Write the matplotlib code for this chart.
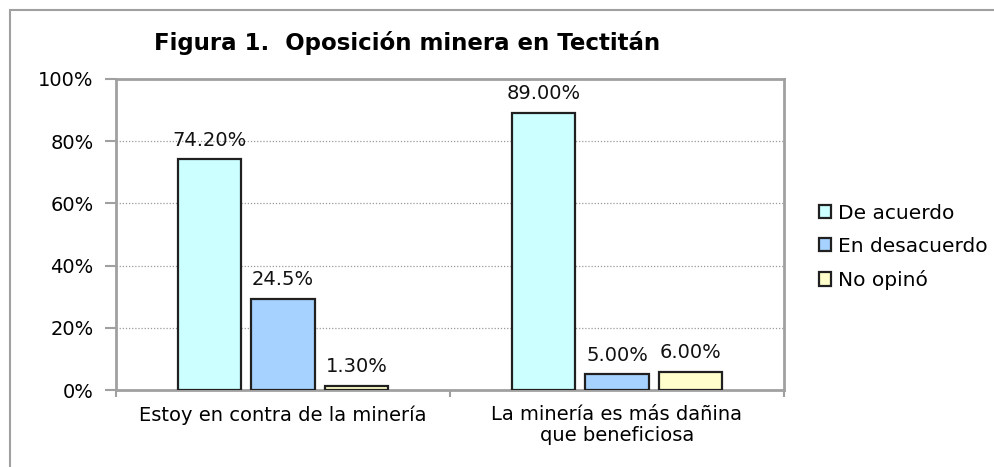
import numpy as np
import matplotlib
matplotlib.use("Agg")
from matplotlib import pyplot as plt
from matplotlib.patches import Rectangle

# survey answers, one list per answer, one value per statement
categories = ["Estoy en contra de la minería", "La minería es más dañina\nque beneficiosa"]
series_names = ["De acuerdo", "En desacuerdo", "No opinó"]
de_acuerdo = [74.2, 89.0]
en_desacuerdo = [29.3, 5.0]
no_opino = [1.3, 5.8]
# labels as printed on the chart
de_acuerdo_lbl = ["74.20%", "89.00%"]
en_desacuerdo_lbl = ["24.5%", "5.00%"]
no_opino_lbl = ["1.30%", "6.00%"]
yticks = [0, 20, 40, 60, 80, 100]

colors = ["#CCFFFF", "#A6D2FF", "#FFFFCC"]
frame_col = "#A0A0A0"

plt.rcParams["font.family"] = "DejaVu Sans"

fig = plt.figure(figsize=(9.95, 4.67), dpi=100)
ax = fig.add_axes([116 / 995, 1 - 390 / 467, 668 / 995, 311 / 467])

# outer chart border (runs off the right and bottom edges)
fig.patches.append(Rectangle((10 / 995, -0.1), 1.2, 1 - 10 / 467 + 0.1,
                             transform=fig.transFigure, fill=False,
                             edgecolor=frame_col, linewidth=1.5))

x = np.arange(len(categories))
width = 0.19
step = 0.22
all_vals = [de_acuerdo, en_desacuerdo, no_opino]
all_lbls = [de_acuerdo_lbl, en_desacuerdo_lbl, no_opino_lbl]
for i in range(3):
    bars = ax.bar(x + (i - 1) * step, all_vals[i], width, color=colors[i],
                  edgecolor="#202020", linewidth=1.6, label=series_names[i], zorder=3)
    ax.bar_label(bars, labels=all_lbls[i], padding=7, fontsize=14, color="#111111")

ax.set_xlim(-0.5, 1.5)
ax.set_ylim(0, 100)
ax.set_yticks(yticks)
ax.set_yticklabels([f"{v}%" for v in yticks])
ax.set_xticks([-0.5, 0.5, 1.5], minor=False)
ax.set_xticklabels([])
ax.set_xticks(x, minor=True)
ax.set_xticklabels(categories, minor=True, fontsize=14, linespacing=1.1)
ax.tick_params(axis="x", which="minor", length=0, pad=11)
ax.tick_params(axis="x", which="major", length=5, color=frame_col, width=1.5)
ax.tick_params(axis="y", length=8, color=frame_col, width=1.5, pad=8, labelsize=14)

ax.yaxis.grid(True, linestyle=(0, (1, 1.5)), color="#9A9A9A", linewidth=0.9, zorder=0)
for s in ax.spines.values():
    s.set_color(frame_col)
    s.set_linewidth(2)

fig.text(407 / 995, 1 - 50 / 467, "Figura 1.  Oposición minera en Tectitán",
         ha="center", va="baseline", fontsize=16.5, fontweight="bold")

ax.legend(loc="center left", bbox_to_anchor=(819 / 995, 1 - 247 / 467),
          bbox_transform=fig.transFigure, frameon=False, fontsize=14.5,
          handlelength=0.62, handleheight=0.62, handletextpad=0.3,
          labelspacing=0.7, borderaxespad=0, borderpad=0)

fig.savefig("out.png", dpi=100)
